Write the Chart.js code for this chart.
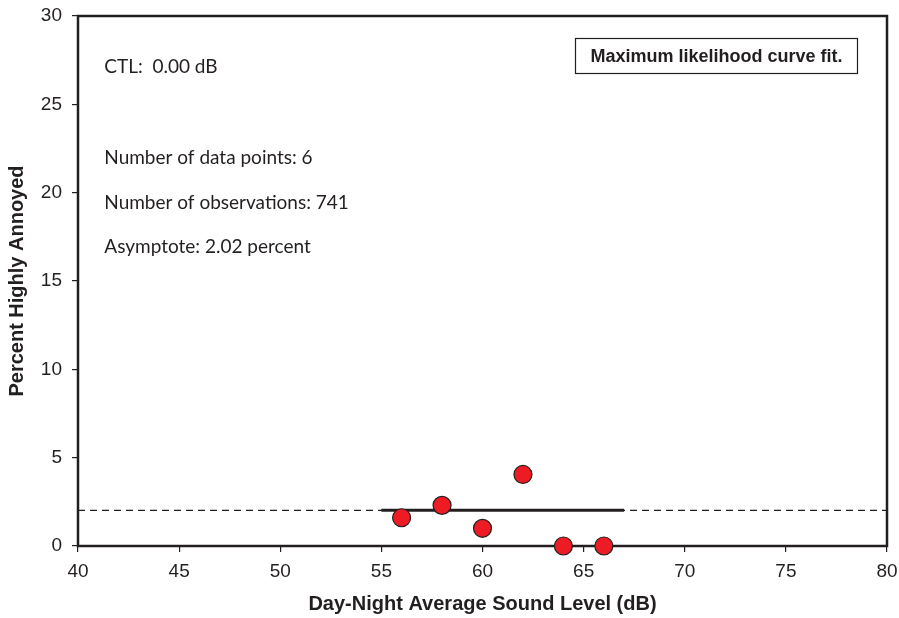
<!DOCTYPE html>
<html>
<head>
<meta charset="utf-8">
<script src="https://cdn.jsdelivr.net/npm/chart.js@4.4.1/dist/chart.umd.min.js"></script>
<style>
  html, body { margin: 0; padding: 0; background: #ffffff; }
  #wrap { width: 899px; height: 618px; }
</style>
</head>
<body>
<div id="wrap"><canvas id="c" width="899" height="618"></canvas></div>
<script>
// Survey sites: sound level (dB) and percent highly annoyed
const soundLevels = [56, 58, 60, 62, 64, 66];
const percentAnnoyed = [1.6, 2.3, 1.0, 4.05, 0.0, 0.0];

// Fitted asymptote and the span of the data it was fitted over
const asymptote = 2.02;
const fitRange = [55, 67];
const axisRangeX = [40, 80];
const axisRangeY = [0, 30];

const notes = [
  { text: 'CTL:  0.00 dB', x: 41.3, y: 27.1 },
  { text: 'Number of data points: 6', x: 41.3, y: 21.95 },
  { text: 'Number of observations: 741', x: 41.3, y: 19.4 },
  { text: 'Asymptote: 2.02 percent', x: 41.3, y: 16.95 }
];
const fitLabel = 'Maximum likelihood curve fit.';

const ink = '#231f20';
const sans = '"Liberation Sans", Arial, sans-serif';

const framePlugin = {
  id: 'frame',
  beforeDatasetsDraw(chart) {
    const { ctx, chartArea: a } = chart;
    ctx.save();
    ctx.strokeStyle = ink;
    ctx.lineWidth = 2.5;
    ctx.strokeRect(a.left, a.top, a.right - a.left, a.bottom - a.top);
    ctx.restore();
  },
  afterDatasetsDraw(chart) {
    const { ctx, scales } = chart;
    ctx.save();
    ctx.fillStyle = ink;
    ctx.font = '19px Lato';
    ctx.textBaseline = 'middle';
    ctx.textAlign = 'left';
    notes.forEach(n => {
      ctx.fillText(n.text, scales.x.getPixelForValue(n.x), scales.y.getPixelForValue(n.y));
    });
    // boxed label, top right
    const bx = 575.5, by = 38.5, bw = 282, bh = 35;
    ctx.fillStyle = '#ffffff';
    ctx.fillRect(bx, by, bw, bh);
    ctx.strokeStyle = ink;
    ctx.lineWidth = 1.2;
    ctx.strokeRect(bx, by, bw, bh);
    ctx.fillStyle = ink;
    ctx.font = 'bold 18px ' + sans;
    ctx.textAlign = 'center';
    ctx.fillText(fitLabel, bx + bw / 2, by + bh / 2 + 1);
    ctx.restore();
  }
};

new Chart(document.getElementById('c'), {
  type: 'scatter',
  data: {
    datasets: [
      {
        label: 'Survey data',
        data: soundLevels.map((x, i) => ({ x, y: percentAnnoyed[i] })),
        pointRadius: 9,
        pointHoverRadius: 9,
        pointBackgroundColor: '#ed1c24',
        pointBorderColor: ink,
        pointBorderWidth: 1.2,
        clip: false,
        order: 0
      },
      {
        label: 'Fit',
        type: 'line',
        data: fitRange.map(x => ({ x, y: asymptote })),
        borderColor: ink,
        borderWidth: 3,
        pointRadius: 0,
        order: 1
      },
      {
        label: 'Asymptote',
        type: 'line',
        data: axisRangeX.map(x => ({ x, y: asymptote })),
        borderColor: ink,
        borderWidth: 1.2,
        borderDash: [7, 5],
        pointRadius: 0,
        order: 2
      }
    ]
  },
  options: {
    responsive: false,
    animation: false,
    events: [],
    layout: { padding: { left: 0, right: 12, top: 16, bottom: 0 } },
    plugins: { legend: { display: false }, tooltip: { enabled: false } },
    scales: {
      x: {
        type: 'linear',
        min: axisRangeX[0], max: axisRangeX[1],
        afterFit(s) { s.height = 72; s.paddingLeft = 0; s.paddingRight = 0; },
        border: { display: false },
        grid: { drawOnChartArea: false, drawTicks: true, tickLength: 6, color: ink, lineWidth: 1.2 },
        ticks: { stepSize: 5, color: ink, padding: 8, font: { family: sans, size: 19 } },
        title: {
          display: true,
          text: 'Day-Night Average Sound Level (dB)',
          color: ink,
          padding: { top: 4, bottom: 2 },
          font: { family: sans, size: 20, weight: 'bold' }
        }
      },
      y: {
        type: 'linear',
        min: axisRangeY[0], max: axisRangeY[1],
        afterFit(s) { s.width = 78; s.paddingTop = 0; s.paddingBottom = 0; },
        border: { display: false },
        grid: { drawOnChartArea: false, drawTicks: true, tickLength: 6, color: ink, lineWidth: 1.2 },
        ticks: { stepSize: 5, color: ink, padding: 10, font: { family: sans, size: 19 } },
        title: {
          display: true,
          text: 'Percent Highly Annoyed',
          color: ink,
          padding: { top: 5, bottom: 4 },
          font: { family: sans, size: 20, weight: 'bold' }
        }
      }
    }
  },
  plugins: [framePlugin]
});
</script>
</body>
</html>
